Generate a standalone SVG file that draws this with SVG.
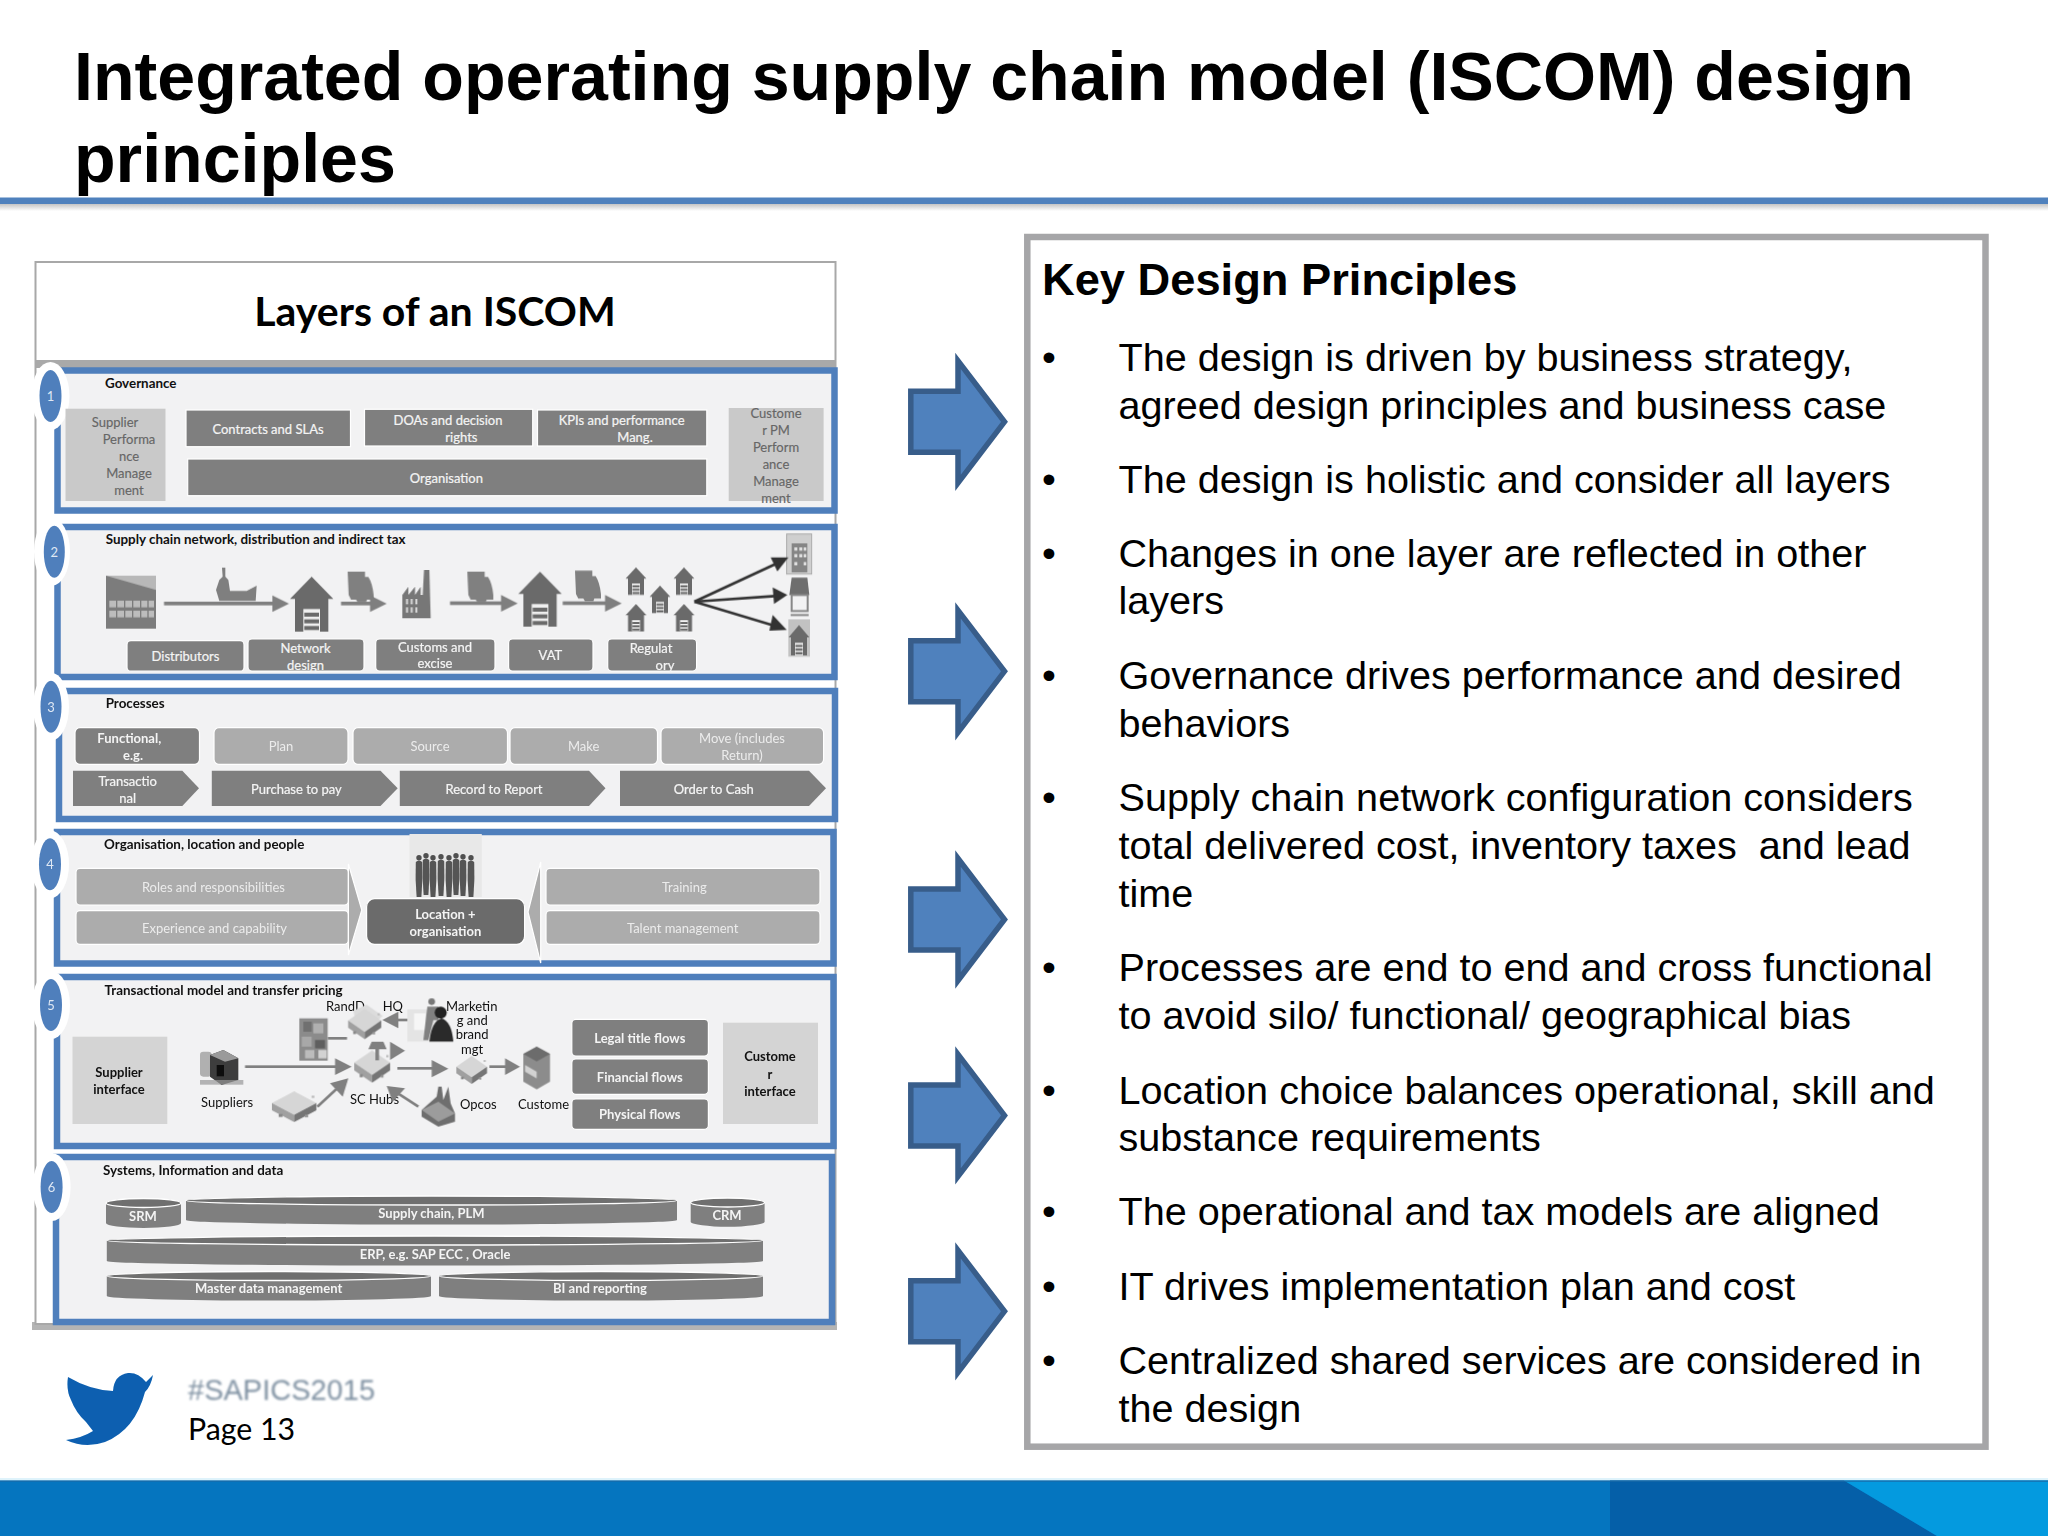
<svg xmlns="http://www.w3.org/2000/svg" xmlns:xlink="http://www.w3.org/1999/xlink" width="2048" height="1536" viewBox="0 0 2048 1536">
<style>
text{font-family:"Lato","Open Sans","Liberation Sans",sans-serif}
.h{font-family:"Liberation Sans",Arial,sans-serif;font-weight:700;font-size:68.15px;fill:#000}
.k{font-family:"Liberation Sans",Arial,sans-serif;font-weight:700;font-size:45.25px;fill:#000}
.r{font-family:"Liberation Sans",Arial,sans-serif;font-size:39.6px;fill:#000;transform:translateY(1.2px)}
.ttl{font-size:13.4px;font-weight:700;fill:#111;transform:translateY(.8px)}
.w{font-size:13px;fill:#f4f4f4;stroke:#f4f4f4;stroke-width:.22;text-anchor:middle;transform:translateY(.8px)}
.wb{font-size:13px;font-weight:700;fill:#f4f4f4;text-anchor:middle;transform:translateY(.8px)}
.l{font-size:13px;fill:#ececec;text-anchor:middle;transform:translateY(.8px)}
.g{font-size:13px;fill:#666;stroke:#666;stroke-width:.15;text-anchor:middle;transform:translateY(.8px)}
.bk{font-size:13px;fill:#111;transform:translateY(.8px)}
.bkb{font-size:13px;font-weight:700;fill:#111;text-anchor:middle;transform:translateY(.8px)}
.n{font-size:13px;fill:#dfe8f4;text-anchor:middle}
.frame{fill:#f2f2f3;stroke:#4f7fbc;stroke-width:6.5}
.dk{fill:#7f7f7f;stroke:#fff;stroke-width:1.2}
.lt{fill:#acacac;stroke:#fff;stroke-width:1.2}
.pale{fill:#c9c9c9}
.halo{fill:#fff}
.badge{fill:#4f7fbc}
.cyl{fill:#7f7f7f}
.cylt{fill:#6f6f6f;stroke:#fff;stroke-width:1.3}
.sh{fill:#7f7f7f}
</style>
<defs>
<polygon id="bigarrow" points="910.8,-30.5 958,-30.5 958,-61 1004.5,0 958,61 958,30.5 910.8,30.5" fill="#4f81bd" stroke="#385d8a" stroke-width="5.5"/>
<g id="house"><polygon points="0,0 65,67 50,67 50,165 -50,165 -50,67 -65,67" fill="#6a6a6a"/><rect x="-25" y="97" width="50" height="68" fill="#f0f0f0"/><rect x="-22" y="108" width="44" height="12" fill="#6a6a6a"/><rect x="-22" y="128" width="44" height="12" fill="#6a6a6a"/><rect x="-22" y="148" width="44" height="12" fill="#6a6a6a"/></g>
<path id="truck" d="M0 0H52V16H62Q74 34 78 70V84H58L55 92H30L25 84H10L3 70Z" fill="#808080"/>
<g id="hub"><polygon points="50,8 96,40 50,72 4,40" fill="#d6d6d6"/><polygon points="4,40 50,72 50,92 4,60" fill="#a0a0a0"/><polygon points="50,72 96,40 96,60 50,92" fill="#757575"/><rect x="18" y="70" width="8" height="8" fill="#888"/><rect x="72" y="72" width="7" height="7" fill="#999"/><rect x="86" y="20" width="6" height="6" fill="#bbb"/></g>
<g id="person"><circle cx="0" cy="2.8" r="2.7" fill="#505050"/><path d="M-3.2 7Q0 4 3.2 7L3.4 24L2.4 42H-2.4L-3.4 24Z" fill="#555"/></g>
<filter id="soft" x="-5%" y="-5%" width="110%" height="110%"><feGaussianBlur stdDeviation="0.6"/></filter>
<filter id="softer" x="-5%" y="-20%" width="110%" height="140%"><feGaussianBlur stdDeviation="0.8"/></filter>
<linearGradient id="shade" x1="0" y1="0" x2="0" y2="1"><stop offset="0" stop-color="#c4c4c4"/><stop offset="1" stop-color="#c4c4c4" stop-opacity="0"/></linearGradient>
</defs>

<rect width="2048" height="1536" fill="#fff"/>

<g id="title"><text class="h" x="74" y="100">Integrated operating supply chain model (ISCOM) design</text><text class="h" x="74" y="182">principles</text></g>
<g id="rule"><rect y="204" width="2048" height="7" fill="url(#shade)"/><rect y="197.5" width="2048" height="6.5" fill="#4f81bd"/></g>

<g id="layers-panel">
<rect x="32" y="1322" width="805" height="8" fill="#b4b4b4" filter="url(#soft)"/>
<rect x="35.5" y="262" width="800" height="1062" fill="#fff" stroke="#a8a8a8" stroke-width="2"/>
<rect x="35.5" y="360" width="800" height="8" fill="#a9a9a9"/>
<text x="435" y="326" font-size="41" font-weight="700" fill="#000" text-anchor="middle">Layers of an ISCOM</text>
</g>

<g id="layer-1">
<rect class="frame" x="57.5" y="370.5" width="777" height="140"/>
<ellipse class="halo" cx="50.5" cy="396" rx="19" ry="34"/><ellipse class="badge" cx="50.5" cy="396" rx="11" ry="26"/><text class="n" x="50.5" y="401">1</text>
<text class="ttl" x="105" y="387">Governance</text>
<rect class="pale" x="65.5" y="408.7" width="100" height="92.3"/>
<text class="g" x="115" y="426">Supplier</text><text class="g" x="129" y="443">Performa</text><text class="g" x="129" y="460">nce</text><text class="g" x="129" y="477">Manage</text><text class="g" x="129" y="494">ment</text>
<rect class="dk" x="186" y="410" width="164.500" height="36.700"/><text class="w" x="268" y="433">Contracts and SLAs</text>
<rect class="dk" x="364.500" y="409.300" width="168.200" height="36.700"/><text class="w" x="448" y="424">DOAs and decision</text><text class="w" x="461.400" y="441">rights</text>
<rect class="dk" x="537.500" y="410" width="169.300" height="36"/><text class="w" x="621.600" y="424.700">KPIs and performance</text><text class="w" x="635" y="441.700">Mang.</text>
<rect class="dk" x="187.700" y="459" width="519.100" height="36.700"/><text class="w" x="446.400" y="482">Organisation</text>
<rect class="pale" x="728.700" y="408" width="94.900" height="93"/>
<text class="g" x="776" y="417.300">Custome</text><text class="g" x="776" y="434.300">r PM</text><text class="g" x="776" y="451.300">Perform</text><text class="g" x="776" y="468.700">ance</text><text class="g" x="776" y="485.300">Manage</text><text class="g" x="776" y="502.700">ment</text>
</g>

<g id="layer-2">
<rect class="frame" x="57.500" y="527" width="777" height="150"/>
<ellipse class="halo" cx="52" cy="551.700" rx="18" ry="34"/><ellipse class="badge" cx="54.300" cy="551.700" rx="10.500" ry="26"/><text class="n" x="54.300" y="556.700">2</text>
<text class="ttl" x="105.700" y="543.300">Supply chain network, distribution and indirect tax</text>
<g filter="url(#soft)" transform="translate(100 530) scale(.33333)">
<rect x="18" y="137" width="150" height="159" fill="#7c7c7c"/><polygon points="18,137 168,137 168,180" fill="#b8b8b8"/>
<g fill="#bdbdbd"><rect x="28" y="212" width="20" height="20"/><rect x="52" y="212" width="20" height="20"/><rect x="76" y="212" width="20" height="20"/><rect x="100" y="212" width="20" height="20"/><rect x="124" y="212" width="18" height="20"/><rect x="146" y="212" width="16" height="20"/><rect x="28" y="242" width="20" height="20"/><rect x="52" y="242" width="20" height="20"/><rect x="76" y="242" width="20" height="20"/><rect x="100" y="242" width="20" height="20"/><rect x="124" y="242" width="18" height="20"/><rect x="146" y="242" width="16" height="20"/></g>
<polygon points="366,113 376,113 376,140 385,150 390,183 440,183 470,167 467,213 358,213 348,180 358,150 368,140" fill="#7f7f7f"/>
<use href="#house" xlink:href="#house" x="635" y="140"/>
<use href="#truck" xlink:href="#truck" x="743" y="125"/>
<path d="M907 265V195L925 170V195L945 170V195L962 170V195H968L972 120H988L992 265Z" fill="#777"/>
<g fill="#d8d8d8"><rect x="918" y="207" width="6" height="16"/><rect x="932" y="207" width="6" height="16"/><rect x="946" y="207" width="6" height="16"/><rect x="918" y="232" width="6" height="16"/><rect x="932" y="232" width="6" height="16"/><rect x="946" y="232" width="6" height="16"/></g>
</g>
<g filter="url(#soft)" transform="translate(450 530) scale(.33333)">
<use href="#truck" xlink:href="#truck" x="52" y="125"/>
<use href="#house" xlink:href="#house" x="270" y="125"/>
<use href="#truck" xlink:href="#truck" x="375" y="122"/>
<use href="#house" xlink:href="#house" transform="translate(558 112) scale(.48 .5)"/>
<use href="#house" xlink:href="#house" transform="translate(702 112) scale(.48 .5)"/>
<use href="#house" xlink:href="#house" transform="translate(630 167) scale(.48 .5)"/>
<use href="#house" xlink:href="#house" transform="translate(558 222) scale(.48 .5)"/>
<use href="#house" xlink:href="#house" transform="translate(702 222) scale(.48 .5)"/>
<rect x="1010" y="12" width="75" height="120" fill="#cfcfcf" stroke="#aaa" stroke-width="3"/><rect x="1025" y="40" width="47" height="87" fill="#858585"/>
<g fill="#e0e0e0"><rect x="1033" y="52" width="9" height="10"/><rect x="1048" y="52" width="9" height="10"/><rect x="1061" y="52" width="8" height="10"/><rect x="1033" y="72" width="9" height="10"/><rect x="1048" y="72" width="9" height="10"/><rect x="1061" y="72" width="8" height="10"/><rect x="1033" y="96" width="9" height="10"/><rect x="1061" y="96" width="8" height="10"/></g>
<polygon points="1025,143 1072,143 1078,195 1018,195" fill="#6e6e6e"/><rect x="1025" y="195" width="48" height="48" fill="none" stroke="#888" stroke-width="6"/><rect x="1022" y="252" width="54" height="6" fill="#888"/>
<rect x="1015" y="268" width="65" height="112" fill="#c2c2c2"/><use href="#house" xlink:href="#house" transform="translate(1047 285) scale(.48 .55)"/>
</g>
<rect class="dk" x="127" y="640.700" width="117" height="30.500" rx="4"/><text class="w" x="185.500" y="660.700">Distributors</text>
<rect class="dk" x="248" y="639" width="116" height="32" rx="4"/><text class="w" x="305.500" y="652.300">Network</text><text class="w" x="305.500" y="669">design</text>
<rect class="dk" x="375.700" y="639" width="119.300" height="32" rx="4"/><text class="w" x="435" y="651">Customs and</text><text class="w" x="435" y="667.700">excise</text>
<rect class="dk" x="508.600" y="639" width="84.400" height="32" rx="4"/><text class="w" x="550.400" y="659.300">VAT</text>
<rect class="dk" x="607.700" y="639" width="88.900" height="32" rx="4"/><text class="w" x="651" y="652.300">Regulat</text><text class="w" x="665" y="669">ory</text>
</g>

<g id="layer-3">
<rect class="frame" x="59" y="691" width="776" height="128"/>
<ellipse class="halo" cx="51" cy="706.700" rx="18" ry="34"/><ellipse class="badge" cx="51" cy="706.700" rx="10.500" ry="26"/><text class="n" x="51" y="711.700">3</text>
<text class="ttl" x="105.700" y="707.700">Processes</text>
<rect class="dk" x="75" y="727.700" width="124.500" height="36.600" rx="5"/><text class="wb" x="129.300" y="742">Functional,</text><text class="wb" x="133" y="759">e.g.</text>
<rect class="lt" x="214" y="727.700" width="134" height="36.600" rx="5"/><text class="l" x="281" y="750.300">Plan</text>
<rect class="lt" x="353" y="727.700" width="154.500" height="36.600" rx="5"/><text class="l" x="430" y="750.300">Source</text>
<rect class="lt" x="510" y="727.700" width="147.500" height="36.600" rx="5"/><text class="l" x="583.600" y="750.300">Make</text>
<rect class="lt" x="661" y="727.700" width="162.600" height="36.600" rx="5"/><text class="l" x="742" y="742">Move (includes</text><text class="l" x="742" y="759">Return)</text>
<polygon class="sh" points="73,770.700 182.300,770.700 199,788.300 182.300,806 73,806"/><text class="w" x="127.700" y="785">Transactio</text><text class="w" x="127.700" y="802">nal</text>
<polygon class="sh" points="211.800,770.700 380.500,770.700 397.700,788.300 380.500,806 211.800,806"/><text class="w" x="296.400" y="793">Purchase to pay</text>
<polygon class="sh" points="399.800,770.700 589,770.700 605.500,788.300 589,806 399.800,806"/><text class="w" x="494" y="793">Record to Report</text>
<polygon class="sh" points="620,770.700 809,770.700 826,788.300 809,806 620,806"/><text class="w" x="713.800" y="793">Order to Cash</text>
</g>

<g id="layer-4">
<rect class="frame" x="57" y="832" width="776.500" height="131.500"/>
<ellipse class="halo" cx="50" cy="864.300" rx="19" ry="34"/><ellipse class="badge" cx="50" cy="864.300" rx="11" ry="26"/><text class="n" x="50" y="869.300">4</text>
<text class="ttl" x="104" y="848.300">Organisation, location and people</text>
<rect x="409.500" y="834" width="72.300" height="63" fill="#e8e8e8"/>
<g filter="url(#soft)"><use href="#person" xlink:href="#person" x="419" y="855"/><use href="#person" xlink:href="#person" x="426" y="853"/><use href="#person" xlink:href="#person" x="433" y="855"/><use href="#person" xlink:href="#person" x="441" y="854"/><use href="#person" xlink:href="#person" x="449" y="855"/><use href="#person" xlink:href="#person" x="456" y="853"/><use href="#person" xlink:href="#person" x="463" y="854"/><use href="#person" xlink:href="#person" x="471" y="855"/></g>
<rect class="lt" x="76" y="868.300" width="272.400" height="36.700" rx="4"/><text class="l" x="213.400" y="891.300">Roles and responsibilities</text>
<rect class="lt" x="76" y="910.700" width="272.400" height="33.600" rx="4"/><text class="l" x="214.500" y="932.300">Experience and capability</text>
<rect class="lt" x="546" y="868.300" width="274" height="36.700" rx="4"/><text class="l" x="684.300" y="891.300">Training</text>
<rect class="lt" x="546" y="910.700" width="274" height="33.600" rx="4"/><text class="l" x="682.700" y="932.300">Talent management</text>
<polygon points="348.400,864 361.800,910 348.400,955" fill="#acacac" stroke="#fff" stroke-width="1.200"/>
<polygon points="540.700,862 528,912 540.700,963" fill="#acacac" stroke="#fff" stroke-width="1.200"/>
<rect x="366.600" y="898.700" width="158" height="45.600" rx="8" fill="#6b6b6b" stroke="#fff" stroke-width="1.200"/><text class="wb" x="445.400" y="918">Location +</text><text class="wb" x="445.400" y="935">organisation</text>
</g>

<g id="layer-5">
<rect class="frame" x="57" y="977" width="776.500" height="169"/>
<ellipse class="halo" cx="51" cy="1005" rx="19" ry="34"/><ellipse class="badge" cx="51" cy="1005" rx="11" ry="26"/><text class="n" x="51" y="1010">5</text>
<text class="ttl" x="104.600" y="994">Transactional model and transfer pricing</text>
<text class="bk" x="326" y="1010">RandD</text><text class="bk" x="382.700" y="1010">HQ</text>
<text class="bk" x="446" y="1010">Marketin</text><text class="bk" x="456.700" y="1024.300">g and</text><text class="bk" x="455.700" y="1038.700">brand</text><text class="bk" x="461" y="1053.300">mgt</text>
<rect x="72.500" y="1036.700" width="94.800" height="87.300" fill="#d4d4d4"/><text class="bkb" x="119" y="1076.700">Supplier</text><text class="bkb" x="119" y="1093.300">interface</text>
<rect x="723" y="1022.700" width="95" height="101.300" fill="#d4d4d4"/><text class="bkb" x="770" y="1060.700">Custome</text><text class="bkb" x="770" y="1078.300">r</text><text class="bkb" x="770" y="1095">interface</text>
<rect class="dk" x="571.800" y="1019.300" width="136.600" height="36.700" rx="4"/><text class="wb" x="639.800" y="1042.700">Legal title flows</text>
<rect class="dk" x="571.800" y="1059" width="136.600" height="35.300" rx="4"/><text class="wb" x="639.800" y="1081.700">Financial flows</text>
<rect class="dk" x="571.800" y="1099" width="136.600" height="30.300" rx="4"/><text class="wb" x="639.800" y="1118.300">Physical flows</text>
<text class="bk" x="201" y="1106.700">Suppliers</text><text class="bk" x="350" y="1103.300">SC Hubs</text><text class="bk" x="460" y="1108.300">Opcos</text><text class="bk" x="518" y="1108.300">Custome</text>
<g filter="url(#soft)" transform="translate(190 990) scale(.33333)">
<rect x="30" y="185" width="35" height="75" rx="10" fill="#b0b0b0"/><polygon points="60,195 100,180 145,205 145,270 95,285 60,260" fill="#3c3c3c"/><polygon points="60,195 100,180 145,205 105,215" fill="#9a9a9a"/><rect x="80" y="225" width="22" height="34" fill="#111"/><rect x="30" y="270" width="130" height="14" fill="#999" opacity=".7"/>
<rect x="328" y="85" width="85" height="127" fill="#8b8b8b"/><rect x="340" y="95" width="25" height="30" fill="#6f6f6f"/><rect x="370" y="100" width="30" height="30" fill="#b0b0b0"/><rect x="335" y="140" width="30" height="30" fill="#a8a8a8"/><rect x="375" y="150" width="30" height="25" fill="#5e5e5e"/><rect x="345" y="180" width="28" height="25" fill="#bcbcbc"/><rect x="385" y="180" width="25" height="25" fill="#d2d2d2"/>
<polygon points="490,62 530,44 578,78 540,112 500,110" fill="#dcdcdc"/>
<use href="#hub" xlink:href="#hub" transform="translate(470 48) scale(1.08 1.08)"/>
<polygon points="652,58 725,58 790,155 652,155" fill="#e4e4e4"/><rect x="672" y="70" width="34" height="50" fill="#f6f6f6"/><circle cx="725" cy="35" r="10" fill="#777"/><path d="M712 50H745V90H730L715 150H700Z" fill="#808080"/><circle cx="752" cy="68" r="18" fill="#222"/><path d="M718 155Q725 92 755 85Q785 95 790 155Z" fill="#2a2a2a"/>
<use href="#hub" xlink:href="#hub" transform="translate(488 172) scale(1.17 1.15)"/>
<use href="#hub" xlink:href="#hub" transform="translate(795 190) scale(1 1)"/>
<polygon points="1000,192 1040,170 1080,192 1080,275 1040,298 1000,275" fill="#8c8c8c"/><polygon points="1000,192 1040,170 1080,192 1040,214" fill="#6c6c6c"/><polygon points="1005,225 1040,245 1040,265 1005,245" fill="#d2d2d2"/>
<use href="#hub" xlink:href="#hub" transform="translate(240 295) scale(1.45 1.1)"/>
<polygon points="695,360 740,320 745,290 755,290 760,330 775,290 782,340 795,370 795,395 745,410 695,380" fill="#6e6e6e"/><polygon points="695,360 745,335 795,370 745,395" fill="#9c9c9c"/>
</g>
</g>

<g id="layer-6">
<rect class="frame" x="56" y="1157" width="776" height="165"/>
<ellipse class="halo" cx="51.600" cy="1187" rx="19" ry="34"/><ellipse class="badge" cx="51.600" cy="1187" rx="11" ry="26"/><text class="n" x="51.600" y="1192">6</text>
<text class="ttl" x="103" y="1174.300">Systems, Information and data</text>
<path class="cyl" d="M106 1203V1223A37.500 5 0 0 0 181 1223V1203Z"/><ellipse class="cylt" cx="143.500" cy="1203" rx="37.500" ry="4.500"/><text class="wb" x="143" y="1220">SRM</text>
<path class="cyl" d="M186 1200.500V1220A245.500 4.500 0 0 0 677 1220V1200.500Z"/><ellipse class="cylt" cx="431.500" cy="1200.500" rx="245.500" ry="4.500"/><text class="wb" x="431.400" y="1217.700">Supply chain, PLM</text>
<path class="cyl" d="M690.700 1202.500V1222A37 5 0 0 0 764.600 1222V1202.500Z"/><ellipse class="cylt" cx="727.600" cy="1202.500" rx="37" ry="4.500"/><text class="wb" x="727" y="1219">CRM</text>
<path class="cyl" d="M106.800 1240.500V1261A328 4.500 0 0 0 763 1261V1240.500Z"/><ellipse class="cylt" cx="434.900" cy="1240.500" rx="328" ry="4.500"/><text class="wb" x="435" y="1258">ERP, e.g. SAP ECC , Oracle</text>
<path class="cyl" d="M106.800 1276V1296A162 4.500 0 0 0 431 1296V1276Z"/><ellipse class="cylt" cx="268.900" cy="1276" rx="162" ry="4.500"/><text class="wb" x="268.600" y="1292.300">Master data management</text>
<path class="cyl" d="M439 1276V1296A162 4.500 0 0 0 763 1296V1276Z"/><ellipse class="cylt" cx="601" cy="1276" rx="162" ry="4.500"/><text class="wb" x="600" y="1292.300">BI and reporting</text>
</g>

<g id="connectors">
<g filter="url(#soft)" transform="translate(100 530) scale(.33333)" fill="#7f7f7f">
<rect x="192" y="215" width="330" height="11"/><polygon points="517,196 567,221 517,246"/>
<rect x="723" y="215" width="90" height="11"/><polygon points="810,196 860,221 810,246"/>
</g>
<g filter="url(#soft)" transform="translate(450 530) scale(.33333)" fill="#7f7f7f">
<rect x="0" y="214" width="155" height="11"/><polygon points="153,195 203,220 153,245"/>
<rect x="338" y="214" width="130" height="11"/><polygon points="465,195 515,220 465,245"/>
<g stroke="#333" stroke-width="8" fill="none"><line x1="733" y1="215" x2="985" y2="98"/><line x1="733" y1="215" x2="975" y2="198"/><line x1="733" y1="215" x2="975" y2="288"/></g>
<g fill="#333"><polygon points="1015,82 962,82 982,124"/><polygon points="1012,195 968,172 972,222"/><polygon points="1010,300 968,255 958,302"/></g>
</g>
<g filter="url(#soft)" transform="translate(190 990) scale(.33333)" fill="#808080" stroke="none">
<rect x="165" y="226" width="272" height="8"/><polygon points="435,205 485,230 435,255"/>
<rect x="413" y="141" width="58" height="8"/>
<rect x="620" y="86" width="32" height="8"/><polygon points="625,65 577,90 625,115"/>
<rect x="556" y="175" width="11" height="36"/><polygon points="545,155 580,155 590,178 535,178"/>
<polygon points="600,155 645,182 600,210"/>
<rect x="622" y="231" width="105" height="8"/><polygon points="725,210 775,236 725,262"/>
<rect x="898" y="226" width="50" height="8"/><polygon points="945,205 990,230 945,255"/>
<line x1="382" y1="350" x2="445" y2="292" stroke="#808080" stroke-width="8"/><polygon points="475,265 420,280 458,320"/>
<line x1="685" y1="350" x2="625" y2="311" stroke="#808080" stroke-width="8"/><polygon points="590,288 608,335 645,295"/>
</g>
</g>

<g id="arrows">
<use href="#bigarrow" xlink:href="#bigarrow" y="421.800"/>
<use href="#bigarrow" xlink:href="#bigarrow" y="671.300"/>
<use href="#bigarrow" xlink:href="#bigarrow" y="919.500"/>
<use href="#bigarrow" xlink:href="#bigarrow" y="1115.400"/>
<use href="#bigarrow" xlink:href="#bigarrow" y="1311.300"/>
</g>

<g id="principles">
<rect x="1027.300" y="237" width="958.200" height="1209.700" fill="#fff" stroke="#a6a6a8" stroke-width="6.500"/>
<text class="k" x="1042" y="295">Key Design Principles</text>
<text class="r" x="1042" y="370">•</text><text class="r" x="1118.500" y="370">The design is driven by business strategy,</text><text class="r" x="1118.500" y="418">agreed design principles and business case</text>
<text class="r" x="1042" y="492">•</text><text class="r" x="1118.500" y="492">The design is holistic and consider all layers</text>
<text class="r" x="1042" y="566">•</text><text class="r" x="1118.500" y="566">Changes in one layer are reflected in other</text><text class="r" x="1118.500" y="613">layers</text>
<text class="r" x="1042" y="688">•</text><text class="r" x="1118.500" y="688">Governance drives performance and desired</text><text class="r" x="1118.500" y="736">behaviors</text>
<text class="r" x="1042" y="810">•</text><text class="r" x="1118.500" y="810">Supply chain network configuration considers</text><text class="r" x="1118.500" y="858">total delivered cost, inventory taxes&#160; and lead</text><text class="r" x="1118.500" y="906">time</text>
<text class="r" x="1042" y="980">•</text><text class="r" x="1118.500" y="980">Processes are end to end and cross functional</text><text class="r" x="1118.500" y="1028">to avoid silo/ functional/ geographical bias</text>
<text class="r" x="1042" y="1103">•</text><text class="r" x="1118.500" y="1103">Location choice balances operational, skill and</text><text class="r" x="1118.500" y="1150">substance requirements</text>
<text class="r" x="1042" y="1224">•</text><text class="r" x="1118.500" y="1224">The operational and tax models are aligned</text>
<text class="r" x="1042" y="1299">•</text><text class="r" x="1118.500" y="1299">IT drives implementation plan and cost</text>
<text class="r" x="1042" y="1373">•</text><text class="r" x="1118.500" y="1373">Centralized shared services are considered in</text><text class="r" x="1118.500" y="1421">the design</text>
</g>

<g id="footer">
<path d="M153 1375L146 1382Q138 1372 128 1373Q114 1375 113 1391Q90 1390 68 1377Q66 1390 71 1400Q76 1413 86 1422L93 1431Q82 1438 66 1440Q85 1449 105 1442Q135 1430 145 1392Q151 1386 153 1375Z" fill="#0b5fb0" filter="url(#soft)"/>
<text x="188" y="1400" font-size="29" fill="#7d8fa0" filter="url(#softer)" style="font-family:'Liberation Sans',Arial,sans-serif">#SAPICS2015</text>
<text x="188" y="1440" font-size="30.300" fill="#000">Page 13</text>
<rect y="1478" width="2048" height="3" fill="#dff3fb"/>
<rect y="1480.500" width="2048" height="55.500" fill="#0575bf"/>
<polygon points="1610,1480.500 1844,1480.500 1937,1536 1610,1536" fill="#055fa8"/>
<polygon points="1844,1480.500 2048,1480.500 2048,1536 1937,1536" fill="#049adf"/>
<rect y="1480.500" width="2048" height="1.500" fill="#1a6aa6" opacity=".7"/>
</g>
</svg>
